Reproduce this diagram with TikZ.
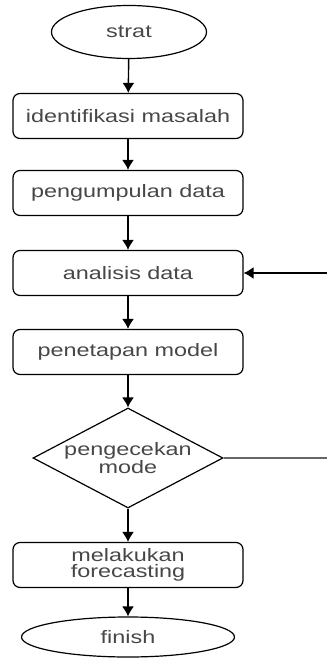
\documentclass[tikz,border=0pt]{standalone}
\usepackage{fontspec}
\setmainfont[FakeStretch=1.3]{Liberation Sans}
\usetikzlibrary{shapes.geometric,arrows.meta}

\begin{document}
\begin{tikzpicture}[x=1pt,y=-1pt,
    every node/.style={font=\fontsize{18}{16.5}\selectfont, text=black!72},
    proses/.style={draw=black, line width=1.2pt, rounded corners=7pt,
      minimum width=230pt, minimum height=45pt, align=center, inner sep=0pt},
    ujung/.style={draw=black, line width=1.2pt, ellipse, inner sep=0pt},
    cabang/.style={draw=black, line width=1.2pt, diamond, inner sep=0pt,
      minimum width=190pt, minimum height=100pt},
    panah/.style={-{Latex[length=10pt,width=12pt]}, line width=1.4pt}]
  \useasboundingbox (0,0) rectangle (327,658);

  \node[ujung, minimum width=155pt, minimum height=53pt] (strat) at (129,32) {strat};
  \node[proses] (idm) at (128,116) {identifikasi masalah};
  \node[proses] (pgd) at (128,193) {pengumpulan data};
  \node[proses] (ad)  at (128,273) {analisis data};
  \node[proses] (pm)  at (128,352) {penetapan model};
  \node[cabang, label={[align=center]center:pengecekan\\mode}] (cek) at (128,458) {};
  \node[proses] (mf)  at (128,565) {melakukan\\forecasting};
  \node[ujung, minimum width=213pt, minimum height=40pt] (fin) at (128,637) {finish};
  \coordinate (balik) at (327,458);
  \coordinate (masuk) at (327,273);

  \draw[panah] (strat) -- (idm);
  \draw[panah] (idm) -- (pgd);
  \draw[panah] (pgd) -- (ad);
  \draw[panah] (ad) -- (pm);
  \draw[panah] (pm) -- (cek);
  \draw[panah] (cek) -- (mf);
  \draw[panah] (mf) -- (fin);
  \draw[line width=1.2pt, black!60] (cek.east) -- (balik);
  \draw[panah] (masuk) -- (ad.east);
\end{tikzpicture}
\end{document}
